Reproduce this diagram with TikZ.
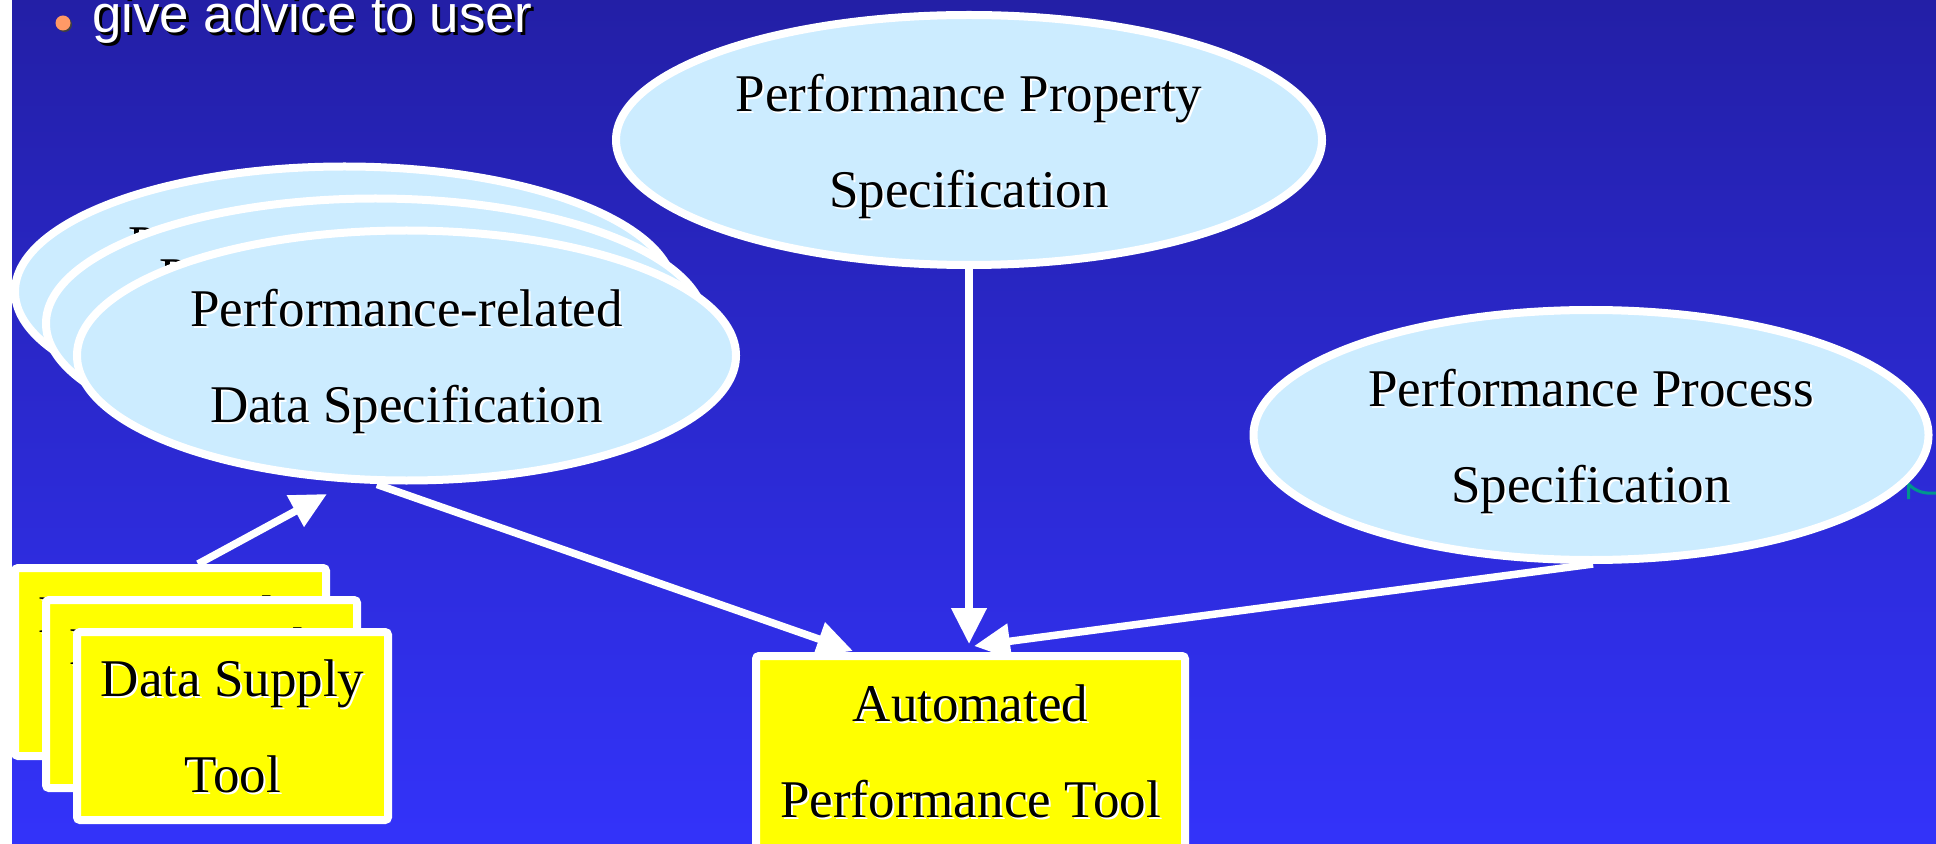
\documentclass[tikz,border=0pt]{standalone}
\usepackage{fontspec}
\setmainfont{Liberation Serif}
\newfontfamily\arialf{Liberation Sans}
\usetikzlibrary{shapes.geometric,arrows.meta,calc}
\definecolor{bgtop}{RGB}{35,31,166}
\definecolor{bgbot}{RGB}{51,51,250}
\definecolor{specfill}{RGB}{204,236,255}
\definecolor{toolfill}{RGB}{255,255,0}
\definecolor{bulletc}{RGB}{255,153,102}
\definecolor{tealc}{RGB}{0,150,140}
\newcommand{\wsh}[1]{\rlap{\kern1pt\raisebox{-1pt}{\color{white}#1}}#1}
\newcommand{\bsh}[1]{\rlap{\kern1.3pt\raisebox{-1.3pt}{\color{black}#1}}{\color{white}#1}}
\newcommand{\upstrut}{\rule{0pt}{26pt}}
\newcommand{\toolstrut}{\rule{0pt}{20pt}}
\begin{document}
\begin{tikzpicture}[x=0.5pt,y=-0.5pt,
  txt/.style={font=\fontsize{26.5pt}{48pt}\selectfont, align=center, text=black},
  spec/.style={txt, ellipse, draw=white, line width=4pt, fill=specfill, inner sep=0pt},
  tool/.style={txt, rectangle, rounded corners=1.5pt, draw=white, line width=4pt, fill=toolfill, inner sep=0pt},
  flow/.style={draw=white, line width=3.75pt, -{Triangle[length=18pt,width=17pt]}},
]
\useasboundingbox (0,0) rectangle (1936,844);
\clip (0,0) rectangle (1936,844);
\shade[top color=bgtop, bottom color=bgbot] (0,0) rectangle (1936,844);
\fill[white] (0,0) rectangle (12,844);

% bullet line
\fill[black!75] (64.5,24.5) circle (3.75pt);
\node[circle, fill=bulletc, minimum size=7.5pt, inner sep=0pt] (bul) at (63,23) {};
\node[anchor=base west, inner sep=0pt, font=\arialf\fontsize{26.4pt}{30pt}\selectfont] (adv) at (92,33) {\bsh{give advice to user}};

% teal fragment at right edge
\draw[tealc, line width=1.5pt] (1908.5,499) -- (1908.5,484) .. controls (1916,492) and (1925,494) .. (1936,493);

% specifications
\node[spec, minimum width=353pt, minimum height=125pt] (prop) at (969,140) {\wsh{Performance Property}\upstrut\\\wsh{Specification}};
\node[spec, minimum width=337.5pt, minimum height=125pt] (proc) at (1591,435) {\wsh{Performance Process}\upstrut\\\wsh{Specification}};

\node[spec, minimum width=329.5pt, minimum height=125pt] (dsA) at (344.5,291.5) {\wsh{Performance-related}\upstrut\\\wsh{Data Specification}};
\node[spec, minimum width=329.5pt, minimum height=125pt] (dsB) at (375.5,323.5) {\wsh{Performance-related}\upstrut\\\wsh{Data Specification}};
\node[spec, minimum width=329.5pt, minimum height=125pt] (ds) at (406.5,355.5) {\wsh{Performance-related}\upstrut\\\wsh{Data Specification}};

% tools
\node[tool, minimum width=155.5pt, minimum height=94pt] (dtA) at (170.5,662) {\wsh{Data Supply}\toolstrut\\\wsh{Tool}};
\node[tool, minimum width=155.5pt, minimum height=94pt] (dtB) at (201.5,694) {\wsh{Data Supply}\toolstrut\\\wsh{Tool}};
\node[tool, minimum width=155.5pt, minimum height=94pt] (dt) at (232.5,726) {\wsh{Data Supply}\toolstrut\\\wsh{Tool}};

\node[tool, minimum width=214.5pt, minimum height=96pt] (apt) at (970.5,752) {\wsh{Automated}\\\wsh{Performance Tool}};

% connectors
\coordinate (t3) at ([yshift=4pt]apt.north);
\draw[flow] ([xshift=13.75pt]dtA.north) -- ([xshift=-39.75pt,yshift=-4.75pt]ds.south);
\draw[flow] ([xshift=-14.75pt]ds.south) -- ([xshift=-58.75pt,yshift=0.5pt]apt.north);
\draw[flow] (prop.south) -- (prop.south |- t3);
\draw[flow] ([xshift=1pt]proc.south) -- ([xshift=1.75pt,yshift=3pt]apt.north);
\end{tikzpicture}
\end{document}
